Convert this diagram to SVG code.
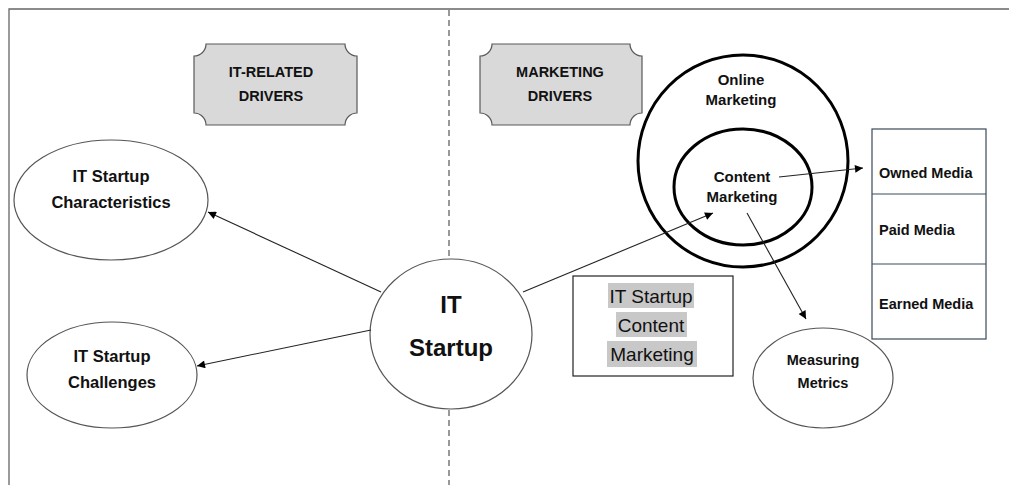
<svg xmlns="http://www.w3.org/2000/svg" width="1009" height="485" viewBox="0 0 1009 485">
<defs>
<marker id="ah" viewBox="0 0 10 10" refX="10" refY="5" markerWidth="9" markerHeight="8" markerUnits="userSpaceOnUse" orient="auto">
<path d="M0,0 L10,5 L0,10 Z" fill="#000"/>
</marker>
<style>
.lbl{font-family:"Liberation Sans",Arial,sans-serif;font-weight:bold;fill:#111;text-anchor:middle}
.reg{font-family:"Liberation Sans",Arial,sans-serif;fill:#111;text-anchor:middle}
.lft{text-anchor:start}
.ell{fill:#fff;stroke:#555;stroke-width:1.2}
.thick{fill:none;stroke:#000;stroke-width:3}
.plaque{fill:#d9d9d9;stroke:#595959;stroke-width:1.2}
.conn{stroke:#222;stroke-width:1.1;fill:none;marker-end:url(#ah)}
.box{fill:#fff;stroke:#3a4a5a;stroke-width:1.2}
.hl{fill:#c8c8c8}
</style>
</defs>
<rect width="1009" height="485" fill="#fff"/>
<g id="frame">
<path d="M9,485 V9 H1009" fill="none" stroke="#666" stroke-width="1.3"/>
<line x1="449" y1="10" x2="449" y2="485" stroke="#555" stroke-width="1.2" stroke-dasharray="6,4"/>
</g>
<g id="it-related-drivers">
<path class="plaque" d="M206,44 H345 A12,12 0 0 0 357,56 V113 A12,12 0 0 0 345,125 H206 A12,12 0 0 0 194,113 V56 A12,12 0 0 0 206,44 Z"/>
<text class="lbl" x="271" y="77" font-size="14.5">IT-RELATED</text>
<text class="lbl" x="271" y="101" font-size="14.5">DRIVERS</text>
</g>
<g id="marketing-drivers">
<path class="plaque" d="M492,44 H630 A12,12 0 0 0 642,56 V113 A12,12 0 0 0 630,125 H492 A12,12 0 0 0 480,113 V56 A12,12 0 0 0 492,44 Z"/>
<text class="lbl" x="560" y="77" font-size="14.5">MARKETING</text>
<text class="lbl" x="560" y="101" font-size="14.5">DRIVERS</text>
</g>
<g id="online-marketing">
<ellipse class="thick" cx="743" cy="161" rx="105" ry="106"/>
<text class="lbl" x="741" y="85" font-size="15">Online</text>
<text class="lbl" x="741" y="105" font-size="15">Marketing</text>
</g>
<g id="content-marketing">
<ellipse class="thick" cx="743" cy="187" rx="69" ry="58"/>
<text class="lbl" x="742" y="182" font-size="15">Content</text>
<text class="lbl" x="742" y="202" font-size="15">Marketing</text>
</g>
<g id="media">
<rect class="box" x="872" y="129" width="114" height="210"/>
<line x1="872" y1="194" x2="986" y2="194" stroke="#3a4a5a" stroke-width="1.2"/>
<line x1="872" y1="264" x2="986" y2="264" stroke="#3a4a5a" stroke-width="1.2"/>
<text class="lbl lft" x="879" y="178" font-size="14.5">Owned Media</text>
<text class="lbl lft" x="879" y="235" font-size="14.5">Paid Media</text>
<text class="lbl lft" x="879" y="309" font-size="14.5">Earned Media</text>
</g>
<g id="it-startup">
<ellipse class="ell" cx="451" cy="334" rx="81" ry="75"/>
<text class="lbl" x="451" y="313" font-size="24">IT</text>
<text class="lbl" x="451" y="356" font-size="24">Startup</text>
</g>
<g id="characteristics">
<ellipse class="ell" cx="111" cy="200" rx="97" ry="60"/>
<text class="lbl" x="111" y="182" font-size="16.5">IT Startup</text>
<text class="lbl" x="111" y="208" font-size="16.5">Characteristics</text>
</g>
<g id="challenges">
<ellipse class="ell" cx="112" cy="375" rx="85" ry="53"/>
<text class="lbl" x="112" y="362" font-size="16.5">IT Startup</text>
<text class="lbl" x="112" y="388" font-size="16.5">Challenges</text>
</g>
<g id="measuring-metrics">
<ellipse class="ell" cx="823" cy="378" rx="70" ry="50"/>
<text class="lbl" x="823" y="365" font-size="14.5">Measuring</text>
<text class="lbl" x="823" y="388" font-size="14.5">Metrics</text>
</g>
<g id="content-box">
<rect x="573" y="276" width="160" height="100" fill="#fff" stroke="#222" stroke-width="1.2"/>
<rect class="hl" x="608" y="283" width="86" height="25"/>
<rect class="hl" x="616" y="312" width="71" height="25"/>
<rect class="hl" x="607" y="341" width="90" height="26"/>
<text class="reg" x="651" y="302.5" font-size="19">IT Startup</text>
<text class="reg" x="651" y="331.5" font-size="19">Content</text>
<text class="reg" x="652" y="360.5" font-size="19">Marketing</text>
</g>
<g id="connectors">
<line class="conn" x1="381" y1="292" x2="208" y2="212"/>
<line class="conn" x1="371" y1="330" x2="197" y2="366"/>
<line class="conn" x1="523" y1="292" x2="713" y2="213"/>
<line class="conn" x1="779" y1="177" x2="863" y2="168"/>
<line class="conn" x1="747" y1="213" x2="806" y2="319"/>
</g>
</svg>
